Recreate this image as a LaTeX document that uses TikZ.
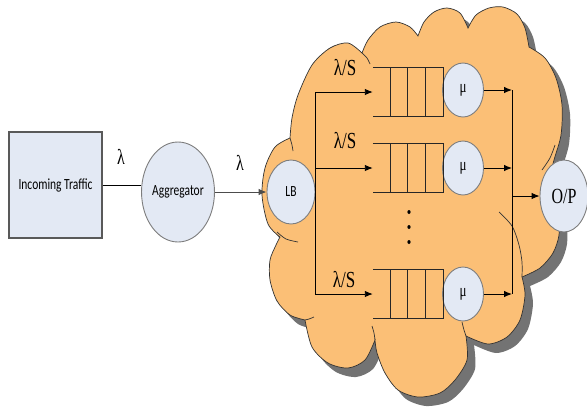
\documentclass[tikz,border=0pt]{standalone}
\usepackage{fontspec}
\setmainfont{Liberation Serif}
\newfontfamily\calibri{Carlito}
\usetikzlibrary{positioning,arrows.meta,shapes.geometric}

\definecolor{cloudorange}{RGB}{251,191,118}
\definecolor{bubblefill}{RGB}{227,233,244}
\definecolor{rim}{RGB}{125,125,125}

% text in the picture is drawn a bit taller than wide
\newcommand{\tall}[1]{\scalebox{1}[1.35]{#1}}

% outline of the cloud, one smooth piece per puff
\newcommand{\cloudpath}{%
  plot[smooth] coordinates {(280,237) (268,224) (262,195) (265,168) (275,147) (290,138)}
  -- plot[smooth] coordinates {(290,138) (292,118) (298,95) (312,65) (330,48) (348,43) (362,53)}
  -- plot[smooth] coordinates {(362,53) (368,40) (380,27) (396,22) (410,27) (418,36)}
  -- plot[smooth] coordinates {(418,36) (424,22) (434,12) (447,8) (460,13) (468,28)}
  -- plot[smooth] coordinates {(468,28) (476,15) (489,8) (503,7) (517,14) (525,28) (529,47)}
  -- plot[smooth] coordinates {(529,47) (545,58) (556,78) (562,105) (561,135) (554,160) (546,190)}
  -- plot[smooth] coordinates {(546,190) (558,215) (559,235) (553,253) (540,268) (522,277)}
  -- plot[smooth] coordinates {(522,277) (525,295) (520,320) (507,337) (488,344) (466,336)}
  -- plot[smooth] coordinates {(466,336) (467,360) (455,380) (440,393) (418,397) (398,390) (385,373) (377,353) (375,340)}
  -- plot[smooth] coordinates {(375,340) (365,360) (348,368) (328,363) (312,347) (305,320)}
  -- plot[smooth] coordinates {(305,320) (290,315) (277,301) (270,280) (270,260) (276,245) (280,237)}
  -- cycle}

\begin{document}
\begin{tikzpicture}[
    x=1pt, y=-1pt,
    every node/.style={inner sep=0pt},
    sans/.style={font=\calibri\fontsize{11.5}{12}\selectfont},
    serif/.style={font=\fontsize{16}{17}\selectfont},
    bubble/.style={ellipse, draw=rim, fill=bubblefill, line width=0.9pt},
    queue/.style={rectangle, minimum width=70, minimum height=48},
    cloudline/.style={draw=black!80, line width=0.7pt},
    qline/.style={draw=black!85, line width=0.8pt},
    arrow/.style={-{Latex[length=8pt,width=6.5pt]}, line width=0.9pt}
]
\useasboundingbox (0,0) rectangle (587,408);

% cloud with its shadow
\fill[black!55, shift={(8,9)}] \cloudpath;
\filldraw[fill=cloudorange, cloudline] \cloudpath;
\draw[cloudline] plot[smooth] coordinates {(277,232) (286,239) (298,242)};
\draw[cloudline] plot[smooth] coordinates {(290,138) (292,145) (293,151)};
\draw[cloudline] plot[smooth] coordinates {(362,53) (367,58) (370,64)};
\draw[cloudline] plot[smooth] coordinates {(542,170) (550,158) (555,145)};
\draw[cloudline] plot[smooth] coordinates {(499,212) (512,226) (519,245) (522,262) (522,277)};
\draw[cloudline] plot[smooth] coordinates {(462,322) (464,330) (466,336)};
\draw[cloudline] plot[smooth] coordinates {(372,326) (374,333) (375,340)};
\draw[cloudline] plot[smooth] coordinates {(305,320) (309,319) (314,317)};

% sources
\node[sans, rectangle, draw=black!65, fill=bubblefill, line width=1.3pt,
      minimum width=93, minimum height=106] (traffic) at (55.5,185) {\tall{Incoming Traffic}};
\node[sans, bubble, minimum width=70, minimum height=100] (agg) at (178,192) {\tall{Aggregator}};
\node[sans, bubble, minimum width=48, minimum height=64] (lb) at (291,192) {\tall{LB}};

\node[serif] (lam1) at (121,157) {\tall{λ}};
\node[serif] (lam2) at (240,163) {\tall{λ}};

% queues and servers
\node[queue] (q1) at (408,92) {};
\node[queue] (q2) at (408,168) {};
\node[queue] (q3) at (408,294) {};
\node[bubble, font=\fontsize{13}{14}\selectfont, minimum width=41, minimum height=54] (mu1) at (463,90) {\tall{μ}};
\node[bubble, font=\fontsize{13}{14}\selectfont, minimum width=41, minimum height=54] (mu2) at (463,168) {\tall{μ}};
\node[bubble, font=\fontsize{13}{14}\selectfont, minimum width=41, minimum height=54] (mu3) at (463,294) {\tall{μ}};
\node[bubble, font=\fontsize{16}{17}\selectfont, minimum width=48, minimum height=72] (op) at (564,196) {\tall{O/P}};

\node[serif, font=\fontsize{17}{18}\selectfont] (ls1) at (345,68) {\tall{λ/S}};
\node[serif, font=\fontsize{17}{18}\selectfont] (ls2) at (345,141) {\tall{λ/S}};
\node[serif, font=\fontsize{17}{18}\selectfont] (ls3) at (344,280) {\tall{λ/S}};

\foreach \q in {q1,q2,q3} {
  \draw[qline] (\q.north west) -- (\q.north east) -- (\q.south east) -- (\q.south west);
  \foreach \dx in {17.5,35,52.5}
    \draw[qline] ([xshift=\dx]\q.north west) -- ([xshift=\dx]\q.south west);
}
\foreach \y in {212,227,242}
  \fill (409,\y) ellipse (1.6 and 2);

% connectors
\draw[line width=0.9pt] (traffic.east) -- (traffic.east -| agg.west);
\draw[arrow, black!70] (agg) -- (lb);
\draw[arrow] (lb.east) |- (q1.west);
\draw[arrow] (lb.east) |- (q2.west);
\draw[arrow] (lb.east) |- (q3.west);

\coordinate (merge) at (512,196);
\draw[arrow] (mu1.east) -- (mu1.east -| merge);
\draw[arrow] (mu2.east) -- (mu2.east -| merge);
\draw[arrow] (mu3.east) -- (mu3.east -| merge);
\draw[line width=0.9pt] (mu1.east -| merge) -- (mu3.east -| merge);
\draw[arrow] (merge) -- (op);

\end{tikzpicture}
\end{document}
